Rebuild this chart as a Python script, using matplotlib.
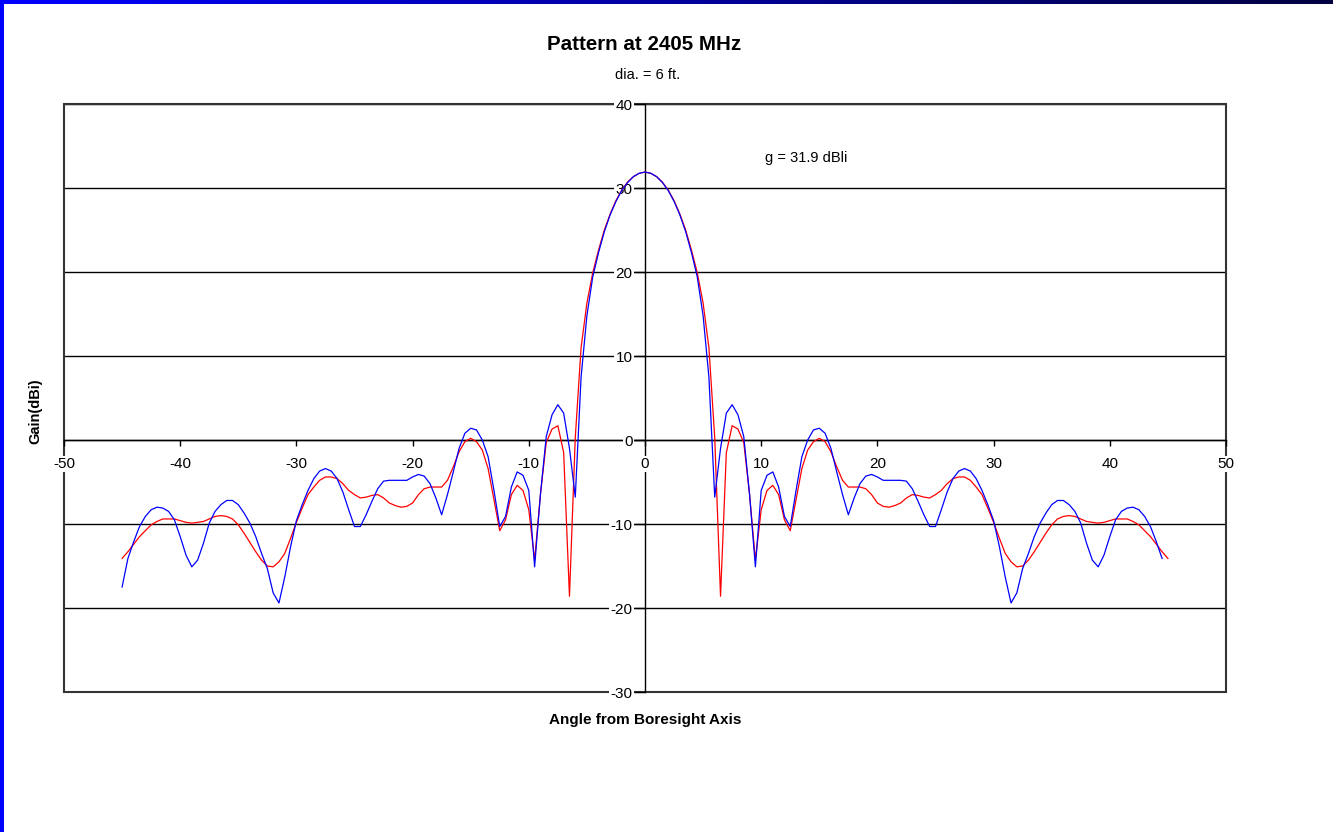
import numpy as np
import matplotlib
matplotlib.use("Agg")
import matplotlib.pyplot as plt
from matplotlib.patches import Rectangle

plt.rcParams['font.family'] = ['Liberation Sans', 'DejaVu Sans']

# Angle grids (degrees off boresight)
angle_measured = np.arange(-45.0, 44.75, 0.5)   # -45 .. 44.5
angle_model = np.arange(-45.0, 45.25, 0.5)      # -45 .. 45

# Measured pattern (blue), gain in dBi
gain_measured = [
    -17.5, -14.1, -12.1, -10.3, -9.1, -8.3, -8.0, -8.1, -8.5, -9.5,
    -11.5, -13.7, -15.1, -14.3, -12.3, -9.9, -8.5, -7.7, -7.2, -7.2,
    -7.7, -8.7, -9.9, -11.5, -13.5, -15.3, -18.2, -19.4, -16.3, -12.7,
    -9.6, -7.7, -6.0, -4.6, -3.7, -3.4, -3.7, -4.6, -6.2, -8.3,
    -10.3, -10.3, -8.9, -7.3, -5.8, -4.9, -4.8, -4.8, -4.8, -4.8,
    -4.4, -4.1, -4.3, -5.2, -6.9, -8.9, -6.5, -3.8, -1.0, 0.8,
    1.4, 1.2, 0.0, -2.0, -6.0, -10.3, -9.1, -5.6, -3.8, -4.2,
    -6.0, -15.1, -6.5, 0.4, 3.0, 4.2, 3.2, -1.0, -6.8, 7.5,
    14.8, 19.4, 22.3, 24.8, 26.8, 28.4, 29.7, 30.65, 31.35, 31.75,
    31.9,
    31.75, 31.35, 30.65, 29.7, 28.4, 26.8, 24.8, 22.3, 19.4, 14.8,
    7.5, -6.8, -1.0, 3.2, 4.2, 3.0, 0.4, -6.5, -15.1, -6.0,
    -4.2, -3.8, -5.6, -9.1, -10.3, -6.0, -2.0, 0.0, 1.2, 1.4,
    0.8, -1.0, -3.8, -6.5, -8.9, -6.9, -5.2, -4.3, -4.1, -4.4,
    -4.8, -4.8, -4.8, -4.8, -4.9, -5.8, -7.3, -8.9, -10.3, -10.3,
    -8.3, -6.2, -4.6, -3.7, -3.4, -3.7, -4.6, -6.0, -7.7, -9.6,
    -12.7, -16.3, -19.4, -18.2, -15.3, -13.5, -11.5, -9.9, -8.7, -7.7,
    -7.2, -7.2, -7.7, -8.5, -9.9, -12.3, -14.3, -15.1, -13.7, -11.5,
    -9.5, -8.5, -8.1, -8.0, -8.3, -9.1, -10.3, -12.1, -14.1,
]

# Computed pattern (red), gain in dBi
gain_model = [
    -14.1, -13.3, -12.4, -11.5, -10.8, -10.1, -9.7, -9.4, -9.4, -9.4,
    -9.6, -9.8, -9.9, -9.8, -9.7, -9.4, -9.1, -9.0, -9.1, -9.4,
    -10.1, -11.1, -12.2, -13.3, -14.3, -15.0, -15.1, -14.5, -13.5, -11.7,
    -9.8, -8.1, -6.5, -5.6, -4.8, -4.4, -4.4, -4.6, -5.2, -6.0,
    -6.5, -6.9, -6.8, -6.6, -6.5, -6.9, -7.5, -7.8, -8.0, -7.9,
    -7.5, -6.5, -5.8, -5.6, -5.6, -5.6, -4.8, -3.2, -1.4, -0.2,
    0.2, -0.2, -1.2, -3.4, -7.1, -10.8, -9.5, -6.5, -5.4, -6.0,
    -8.3, -14.3, -6.5, -0.3, 1.3, 1.7, -1.5, -18.6, 0.3, 11.0,
    16.3, 19.9, 22.6, 25.0, 26.9, 28.5, 29.75, 30.7, 31.35, 31.75,
    31.9,
    31.75, 31.35, 30.7, 29.75, 28.5, 26.9, 25.0, 22.6, 19.9, 16.3,
    11.0, 0.3, -18.6, -1.5, 1.7, 1.3, -0.3, -6.5, -14.3, -8.3,
    -6.0, -5.4, -6.5, -9.5, -10.8, -7.1, -3.4, -1.2, -0.2, 0.2,
    -0.2, -1.4, -3.2, -4.8, -5.6, -5.6, -5.6, -5.8, -6.5, -7.5,
    -7.9, -8.0, -7.8, -7.5, -6.9, -6.5, -6.6, -6.8, -6.9, -6.5,
    -6.0, -5.2, -4.6, -4.4, -4.4, -4.8, -5.6, -6.5, -8.1, -9.8,
    -11.7, -13.5, -14.5, -15.1, -15.0, -14.3, -13.3, -12.2, -11.1, -10.1,
    -9.4, -9.1, -9.0, -9.1, -9.4, -9.7, -9.8, -9.9, -9.8, -9.6,
    -9.4, -9.4, -9.4, -9.7, -10.1, -10.8, -11.5, -12.4, -13.3, -14.1,
]

x_ticks = [-50, -40, -30, -20, -10, 0, 10, 20, 30, 40, 50]
y_ticks = [-30, -20, -10, 0, 10, 20, 30, 40]

W, H = 1333, 832
fig = plt.figure(figsize=(W / 100, H / 100), dpi=100)
fig.patch.set_facecolor('white')

# Window frame: blue gradient strip along the top, solid blue along the left
bar = fig.add_axes([0, 1 - 4 / H, 1, 4 / H])
grad = np.linspace(0, 1, 256)
cols = np.zeros((1, 256, 3))
cols[0, :, 2] = 1.0 - 0.75 * grad
bar.imshow(cols, aspect='auto', extent=[0, 1, 0, 1])
bar.set_axis_off()
fig.patches.append(Rectangle((0, 0), 4 / W, 1, transform=fig.transFigure,
                             facecolor='#0000ff', edgecolor='none', zorder=10))

ax = fig.add_axes([64 / W, 1 - 692 / H, (1226 - 64) / W, (692 - 104) / H])
ax.set_xlim(-50, 50)
ax.set_ylim(-30, 40)

# Horizontal gridlines
for yv in y_ticks:
    ax.axhline(yv, color='black', lw=1.0, zorder=1)

ax.plot(angle_model, gain_model, color='#ff0000', lw=0.9, zorder=3)
ax.plot(angle_measured, gain_measured, color='#0000ff', lw=0.9, zorder=4)

# Axes crossing at the origin
for side in ('top', 'right'):
    ax.spines[side].set_visible(False)
ax.spines['left'].set_position(('data', 0))
ax.spines['bottom'].set_position(('data', 0))
for side in ('left', 'bottom'):
    ax.spines[side].set_linewidth(1.0)
    ax.spines[side].set_zorder(1.2)

# Plot-area border
ax.add_patch(Rectangle((0, 0), 1, 1, transform=ax.transAxes, fill=False,
                       edgecolor='#333333', lw=1.5, zorder=1.1, clip_on=False))

ax.set_xticks(x_ticks)
ax.set_yticks(y_ticks)
ax.set_xticklabels([str(v) for v in x_ticks])
ax.set_yticklabels([str(v) for v in y_ticks])
ax.tick_params(axis='x', direction='out', length=4, width=1, pad=8.5, labelsize=11)
ax.tick_params(axis='y', direction='out', length=8, width=1, pad=1.0, labelsize=11)
ax.xaxis.set_zorder(2)
ax.yaxis.set_zorder(2)
for lbl in ax.get_xticklabels() + ax.get_yticklabels():
    lbl.set_bbox(dict(facecolor='white', edgecolor='none', pad=0.8))

fig.text(644 / W, 1 - 45 / H, 'Pattern at 2405 MHz', ha='center', va='center',
         fontsize=14.8, fontweight='bold')
fig.text(648 / W, 1 - 75 / H, 'dia. = 6 ft.', ha='center', va='center', fontsize=10.5)
ax.text(13.9, 33.6, 'g = 31.9 dBli', ha='center', va='center', fontsize=10.5)
fig.text(645 / W, 1 - 720 / H, 'Angle from Boresight Axis', ha='center', va='center',
         fontsize=11, fontweight='bold')
fig.text(35 / W, 1 - 411 / H, 'Gain(dBi)', ha='center', va='center', rotation=90,
         fontsize=10.5, fontweight='bold')

fig.savefig('out.png', dpi=100)
